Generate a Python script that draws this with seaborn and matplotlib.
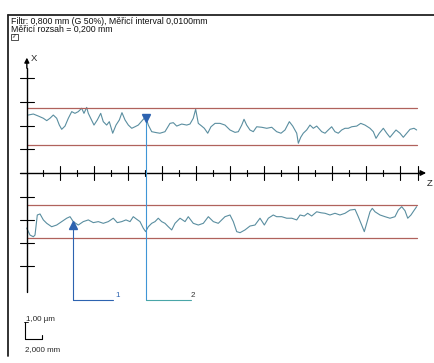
import numpy as np
import pandas as pd
import matplotlib
matplotlib.use("Agg")
import matplotlib.pyplot as plt
from matplotlib.lines import Line2D
from matplotlib.patches import Rectangle
import seaborn as sns

# ---- data (mm along profile, µm height relative to Z axis) ----
upper_x = [0.27, 0.86, 1.45, 2.04, 2.44, 2.82, 3.21, 3.61, 3.92, 4.20, 4.59, 4.98, 5.38, 5.76, 6.15, 6.55,
           6.82, 7.14, 7.33, 7.61, 8.00, 8.39, 8.79, 9.09, 9.49, 9.80, 10.20, 10.59, 10.98, 11.29, 11.65,
           12.04, 12.44, 12.82, 13.21, 13.73, 14.08, 14.39, 14.79, 15.38, 15.76, 16.35, 16.94, 17.33, 17.73,
           18.32, 18.91, 19.29, 19.68, 19.96, 20.27, 20.67, 20.98, 21.38, 21.76, 22.24, 22.82, 23.41, 24.00,
           24.59, 24.98, 25.38, 25.65, 25.96, 26.35, 26.74, 27.14, 27.73, 28.32, 28.91, 29.49, 30.00, 30.47,
           30.98, 31.38, 31.85, 32.04, 32.32, 32.62, 33.02, 33.41, 33.80, 34.20, 34.79, 35.18, 35.56, 35.96,
           36.35, 36.74, 37.14, 37.53, 37.92, 38.32, 38.91, 39.38, 39.88, 40.47, 40.86, 41.18, 41.56, 42.04,
           42.44, 42.82, 43.21, 43.53, 44.00, 44.39, 44.79, 45.18, 45.65, 45.96]
upper_z = [3.41, 3.47, 3.35, 3.22, 3.08, 3.22, 3.41, 3.22, 2.82, 2.57, 2.76, 3.22, 3.61, 3.51, 3.61, 3.81,
           3.51, 3.86, 3.51, 3.22, 2.82, 3.12, 3.51, 3.02, 2.82, 3.02, 2.34, 2.82, 3.12, 3.55, 3.12,
           2.82, 2.63, 2.72, 2.82, 3.12, 3.31, 2.82, 2.43, 2.37, 2.34, 2.43, 2.92, 2.96, 2.76,
           2.88, 2.82, 2.88, 3.22, 3.75, 2.92, 2.76, 2.63, 2.34, 2.72, 2.92, 2.92, 2.82, 2.53,
           2.39, 2.43, 2.82, 3.16, 2.82, 2.53, 2.43, 2.72, 2.69, 2.63, 2.69, 2.43, 2.34, 2.53,
           3.02, 2.76, 2.34, 1.75, 2.10, 2.34, 2.53, 2.82, 2.63, 2.76, 2.43, 2.34, 2.53, 2.72,
           2.43, 2.34, 2.53, 2.63, 2.63, 2.72, 2.76, 2.92, 2.82, 2.63, 2.43, 2.04, 2.34, 2.63,
           2.34, 2.10, 2.34, 2.53, 2.34, 2.10, 2.34, 2.57, 2.63, 2.53]

lower_x = [0.08, 0.47, 0.86, 1.06, 1.33, 1.65, 2.04, 2.44, 3.02, 3.61, 4.20, 4.79, 5.18, 5.56, 6.15, 6.74,
           7.33, 7.92, 8.51, 9.09, 9.68, 10.27, 10.74, 11.26, 11.76, 12.24, 12.62, 13.02, 13.41, 13.80,
           14.08, 14.39, 14.79, 15.18, 15.56, 15.96, 16.35, 16.74, 17.14, 17.53, 18.12, 18.71, 19.09,
           19.68, 20.27, 20.86, 21.45, 22.04, 22.62, 23.41, 24.00, 24.39, 24.79, 25.18, 25.76, 26.35,
           26.94, 27.53, 28.04, 28.51, 29.09, 29.49, 30.08, 30.67, 31.26, 31.85, 32.24, 32.74, 33.14,
           33.61, 34.20, 34.71, 35.18, 35.76, 36.35, 36.94, 37.53, 38.12, 38.71, 39.09, 39.49, 39.80,
           40.08, 40.47, 40.74, 41.06, 41.65, 42.24, 42.82, 43.41, 43.80, 44.20, 44.59, 44.91, 45.29,
           45.68, 45.96]
lower_z = [-3.24, -3.65, -3.75, -3.65, -2.47, -2.41, -2.76, -2.96, -3.16, -3.06, -2.86, -2.66, -2.57, -2.86,
           -3.06, -2.86, -2.76, -2.92, -2.86, -2.96, -2.86, -2.66, -2.92, -2.86, -2.76, -2.86, -2.57, -2.72,
           -2.86, -3.25, -3.45, -3.16, -2.96, -2.86, -2.66, -2.86, -2.96, -3.16, -3.35, -2.96, -2.66, -2.86,
           -2.57, -2.96, -3.06, -2.96, -2.57, -2.86, -2.96, -2.57, -2.47, -2.86, -3.45, -3.51, -3.35, -3.12,
           -3.06, -2.66, -3.06, -2.66, -2.47, -2.57, -2.57, -2.66, -2.66, -2.76, -2.47, -2.53, -2.37,
           -2.53, -2.28, -2.34, -2.37, -2.47, -2.37, -2.47, -2.37, -2.18, -2.14, -2.57, -3.06, -3.45,
           -2.96, -2.28, -2.08, -2.28, -2.47, -2.57, -2.66, -2.57, -2.18, -1.98, -2.22, -2.66, -2.47,
           -2.18, -1.98]

band_upper = [3.85, 1.65]     # µm
band_lower = [-1.91, -3.82]   # µm
band_x = [0.1, 46.0]          # mm

marker1 = (5.56, -3.05)   # mm, µm (up triangle, lower profile)
marker2 = (14.08, 3.25)   # mm, µm (down triangle, upper profile)
leader_bottom = -7.47     # µm
label1_end = 10.24        # mm
label2_end = 19.41        # mm

z_ticks_minor = [2, 6, 10, 14, 18, 22, 26, 30, 34, 38, 42]
z_ticks_major = [4, 8, 12, 16, 20, 24, 28, 32, 36, 40, 44, 46.1]
x_ticks = [5.59, 4.18, 2.76, 1.41, -1.41, -2.76, -4.12, -5.47]

header1 = "Filtr: 0,800 mm (G 50%), Měřicí interval 0,0100mm"
header2 = "Měřicí rozsah = 0,200 mm"

# ---- figure ----
sns.set_theme(style="white")
plt.rcParams['font.family'] = ['Liberation Sans', 'DejaVu Sans']

W, H = 435, 363
fig = plt.figure(figsize=(W / 100, H / 100), dpi=100)
ax = fig.add_axes([0, 0, 1, 1])
px_per_mm, px_per_um = 8.5, 17.0
x0_px, z0_px = 26, 173
ax.set_xlim(-x0_px / px_per_mm, (W - x0_px) / px_per_mm)
ax.set_ylim((z0_px - H) / px_per_um, z0_px / px_per_um)
ax.axis("off")

prof_col = "#5a8ea0"
red_col = "#b0625c"

df_u = pd.DataFrame({"x": upper_x, "z": upper_z})
df_l = pd.DataFrame({"x": lower_x, "z": lower_z})
sns.lineplot(data=df_u, x="x", y="z", ax=ax, color=prof_col, lw=0.8, estimator=None, sort=False)
sns.lineplot(data=df_l, x="x", y="z", ax=ax, color=prof_col, lw=0.8, estimator=None, sort=False)

for b in band_upper + band_lower:
    ax.plot(band_x, [b, b], color=red_col, lw=0.9)

# vertical axis X
ax.plot([0.1, 0.1], [-7.0, 6.2], color="black", lw=1.0)
ax.annotate("", xy=(0.1, 6.95), xytext=(0.1, 6.0),
            arrowprops=dict(arrowstyle="-|>", color="black", lw=1.0, mutation_scale=7))
for t in x_ticks:
    ax.plot([-0.7, 0.9], [t, t], color="black", lw=0.8)
ax.text(0.55, 6.75, "X", fontsize=6.8, ha="left", va="center")

# horizontal axis Z
ax.plot([-0.7, 46.5], [0, 0], color="black", lw=1.0)
ax.annotate("", xy=(47.4, 0), xytext=(46.0, 0),
            arrowprops=dict(arrowstyle="-|>", color="black", lw=1.0, mutation_scale=8))
for t in z_ticks_major:
    ax.plot([t, t], [-0.42, 0.42], color="black", lw=0.8)
for t in z_ticks_minor:
    ax.plot([t, t], [-0.2, 0.2], color="black", lw=0.8)
ax.text(47.15, -0.6, "Z", fontsize=6.8, ha="left", va="center")

# markers & leader lines
c1, c2, c2h = "#2d63b0", "#3f95d6", "#4aa6a8"
ax.plot([marker1[0]] * 2, [marker1[1] - 0.2, leader_bottom], color=c1, lw=0.8)
ax.plot([marker1[0], label1_end], [leader_bottom] * 2, color=c1, lw=0.8)
ax.plot(*marker1, marker="^", color=c1, ms=6)
ax.text(label1_end + 0.3, leader_bottom + 0.05, "1", fontsize=5.8, color=c1, ha="left", va="bottom")
ax.plot([marker2[0]] * 2, [marker2[1], leader_bottom], color=c2, lw=0.8)
ax.plot([marker2[0], label2_end], [leader_bottom] * 2, color=c2h, lw=0.8)
ax.plot(*marker2, marker="v", color=c1, ms=6)
ax.text(label2_end - 0.1, leader_bottom + 0.05, "2", fontsize=5.8, color="#333333", ha="left", va="bottom")

# scale bars
sx, sy = -0.12, -9.76
ax.plot([sx, sx], [sy, sy + 1.0], color="black", lw=0.8)
ax.plot([sx, sx + 2.0], [sy, sy], color="black", lw=0.8)
ax.plot([sx + 2.0, sx + 2.0], [sy, sy + 0.25], color="black", lw=0.8)
ax.plot([sx - 0.1, sx + 0.3], [sy + 1.0, sy + 1.0], color="black", lw=0.6)
ax.text(sx + 0.1, sy + 1.15, "1,00 µm", fontsize=5.8, ha="left", va="center")
ax.text(sx - 0.05, sy - 0.62, "2,000 mm", fontsize=5.8, ha="left", va="center")

# frame and header
fx, fy = 8 / W, 1 - 15 / H
fig.add_artist(Line2D([fx, 1.0], [fy, fy], color="#222222", lw=1.3, transform=fig.transFigure))
fig.add_artist(Line2D([fx, fx], [fy, 1 - 356 / H], color="#222222", lw=1.3, transform=fig.transFigure))
fig.text(11 / W, 1 - 21.5 / H, header1, fontsize=6.3, ha="left", va="center", color="#111111")
fig.text(11 / W, 1 - 29.5 / H, header2, fontsize=6.3, ha="left", va="center", color="#111111")
fig.add_artist(Rectangle((11 / W, 1 - 39.5 / H), 7 / W, 5.5 / H, fill=False, lw=0.6,
                         edgecolor="#333333", transform=fig.transFigure))
fig.text(14.5 / W, 1 - 36.8 / H, "//", fontsize=4.5, ha="center", va="center", style="italic")

fig.savefig("out.png", dpi=100)
